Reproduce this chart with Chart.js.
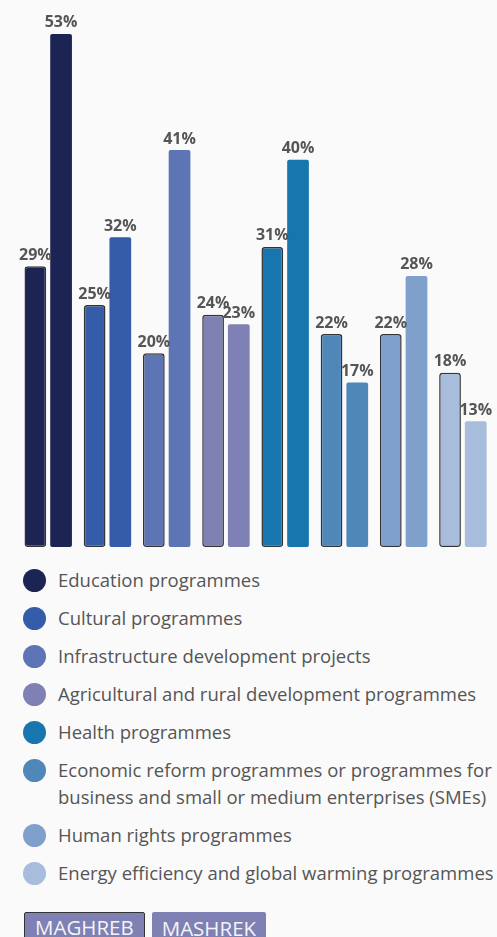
<!DOCTYPE html>
<html>
<head>
<meta charset="utf-8">
<script src="https://cdn.jsdelivr.net/npm/chart.js@4.4.1/dist/chart.umd.min.js"></script>
<style>
  html, body { margin: 0; padding: 0; background: #fafafa; }
  body { width: 497px; height: 937px; position: relative; overflow: hidden; font-family: 'Open Sans', sans-serif; }
  #chartBox { position: absolute; left: 0; top: 0; width: 497px; height: 550px; }
  #legend { position: absolute; left: 23px; top: 566px; width: 480px; }
  .row { display: flex; align-items: flex-start; margin-bottom: 11px; }
  .dot { width: 23px; height: 23px; border-radius: 50%; flex: none; margin-top: 3px; }
  .txt { margin-left: 12px; font-size: 18.5px; line-height: 27px; color: #555; width: 442px; }
  #regions { position: absolute; left: 24px; top: 912px; display: flex; gap: 7px; }
  .reg { height: 32px; padding: 0 10px; background: #7f80b3; color: #f4f4f8; font-size: 20.5px; line-height: 32px; border-radius: 2px; box-sizing: border-box; }
  .reg.on { border: 1.5px solid #333; line-height: 29px; }
</style>
</head>
<body>
<div id="chartBox"><canvas id="chart"></canvas></div>
<div id="legend"></div>
<div id="regions"></div>
<script>
// ===== DATA =====
const categories = [
  'Education programmes',
  'Cultural programmes',
  'Infrastructure development projects',
  'Agricultural and rural development programmes',
  'Health programmes',
  'Economic reform programmes or programmes for business and small or medium enterprises (SMEs)',
  'Human rights programmes',
  'Energy efficiency and global warming programmes',
];
const maghreb = [29, 25, 20, 24, 31, 22, 22, 18];
const mashrek = [53, 32, 41, 23, 40, 17, 28, 13];
const regions = ['MAGHREB', 'MASHREK'];
const colors = ['#1b2452', '#355ca8', '#5d74b5', '#7f80b3', '#1876ae', '#4f87b9', '#7ea0cb', '#a8bddb'];

// ===== LEGEND =====
const legend = document.getElementById('legend');
categories.forEach((name, i) => {
  const row = document.createElement('div');
  row.className = 'row';
  row.innerHTML = `<div class="dot" style="background:${colors[i]}"></div><div class="txt">${name}</div>`;
  legend.appendChild(row);
});
const regBox = document.getElementById('regions');
regions.forEach((r, i) => {
  const d = document.createElement('div');
  d.className = 'reg' + (i === 0 ? ' on' : '');
  d.textContent = r;
  regBox.appendChild(d);
});

// ===== VALUE LABELS =====
const valueLabels = {
  id: 'valueLabels',
  afterDatasetsDraw(chart) {
    const { ctx } = chart;
    ctx.save();
    ctx.font = 'bold 16px "Open Sans", sans-serif';
    ctx.fillStyle = '#555';
    ctx.textAlign = 'center';
    ctx.textBaseline = 'bottom';
    chart.data.datasets.forEach((ds, di) => {
      chart.getDatasetMeta(di).data.forEach((bar, i) => {
        ctx.fillText(`${ds.data[i]}%`, bar.x, bar.y - 3);
      });
    });
    ctx.restore();
  },
};

new Chart(document.getElementById('chart'), {
  type: 'bar',
  data: {
    labels: categories,
    datasets: [
      {
        label: regions[0],
        data: maghreb,
        backgroundColor: colors,
        borderColor: '#333',
        borderWidth: 1.5,
        borderRadius: 3,
        borderSkipped: false,
      },
      {
        label: regions[1],
        data: mashrek,
        backgroundColor: colors,
        borderWidth: 0,
        borderRadius: 2,
        borderSkipped: false,
      },
    ],
  },
  options: {
    responsive: true,
    maintainAspectRatio: false,
    animation: false,
    categoryPercentage: 0.868,
    barPercentage: 0.845,
    layout: { padding: { left: 18.6, right: 4.5, top: 0, bottom: 3 } },
    scales: {
      x: { display: false },
      y: { display: false, min: 0, max: 56.5 },
    },
    plugins: {
      legend: { display: false },
      tooltip: { enabled: false },
    },
  },
  plugins: [valueLabels],
});
</script>
</body>
</html>
